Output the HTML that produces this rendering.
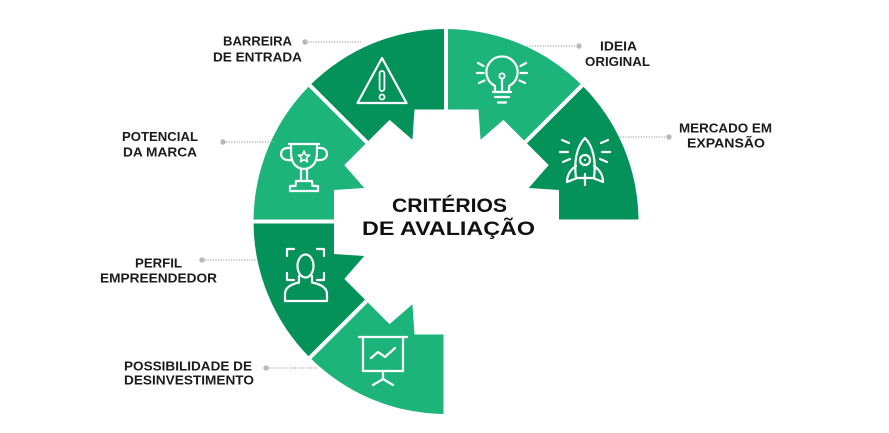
<!DOCTYPE html>
<html>
<head>
<meta charset="utf-8">
<style>
  html,body{margin:0;padding:0;background:#fff;}
  svg{display:block;}
  .lbl{font-family:"Liberation Sans",Arial,sans-serif;font-weight:bold;font-size:13px;fill:#1b1b1b;}
  .ttl{font-family:"Liberation Sans",Arial,sans-serif;font-weight:bold;font-size:19.5px;fill:#111;}
  .ic{fill:none;stroke:#fff;stroke-width:2.2;stroke-linecap:round;stroke-linejoin:round;}
</style>
</head>
<body>
<svg width="889" height="433" viewBox="0 0 889 433" xmlns="http://www.w3.org/2000/svg">
  <rect width="889" height="433" fill="#fff"/>

  <!-- Ring wedges -->
  <path d="M446,219.5 L638.49,219.5 A192.5,192.5 0 0 0 582.12,85.38 Z" fill="#04915a"/>
  <path d="M446,221.5 L582.12,85.38 A192.5,192.5 0 0 0 446,29 Z" fill="#1db47c"/>
  <path d="M446,221.5 L446,29 A192.5,192.5 0 0 0 309.88,85.38 Z" fill="#04915a"/>
  <path d="M446,221.5 L309.88,85.38 A192.5,192.5 0 0 0 253.5,221.5 Z" fill="#1db47c"/>
  <path d="M446,221.5 L253.5,221.5 A192.5,192.5 0 0 0 309.88,357.62 Z" fill="#04915a"/>
  <path d="M446,221.5 L309.88,357.62 A192.5,192.5 0 0 0 443.5,413.98 L443.5,300 Z" fill="#1db47c"/>

  <!-- Gap lines -->
  <g stroke="#fff" stroke-width="4" fill="none">
    <path d="M446,221.5 L592,75.5"/>
    <path d="M446,221.5 L446,18"/>
    <path d="M446,221.5 L300,75.5"/>
    <path d="M446,221.5 L245,221.5"/>
    <path d="M446,221.5 L300,367.5"/>
  </g>

  <!-- White gear (single polygon) -->
  <polygon fill="#fff" points="559,254 559,190 528.73,187.94 548.68,165.09 503.41,119.82 480.56,139.77 478.5,109.5 414.5,109.5 412.44,139.77 389.59,119.82 344.32,165.09 364.27,187.94 334,190 334,254 364.27,256.06 344.32,278.91 389.59,324.18 412.44,304.23 414.5,334.5 478.5,334.5 480.56,304.23 503.41,324.18 548.68,278.91 528.73,256.06"/>

  <!-- Icons -->
  <!-- Warning -->
  <path class="ic" d="M382,58 L406.5,103 L357.5,103 Z"/>
  <rect x="379.6" y="71" width="4.8" height="20" rx="2.4" class="ic" style="stroke-width:1.8"/>
  <circle cx="382" cy="97" r="2.5" class="ic" style="stroke-width:1.8"/>

  <!-- Lightbulb -->
  <path class="ic" d="M495,92 L495,86 A15.6,15.6 0 1 1 509,86 L509,92"/>
  <path class="ic" d="M493,92 H511 M495,97 H509 M498,102.5 H506"/>
  <circle cx="502" cy="76" r="2.6" class="ic" style="stroke-width:1.8"/>
  <path class="ic" d="M502,78.6 V92"/>
  <path class="ic" d="M478,63 L483.5,66 M477,73 H483.5 M479,83 L484.5,80.5 M526,63 L520.5,66 M527,73 H520.5 M525,83 L519.5,80.5"/>

  <!-- Rocket -->
  <path class="ic" d="M585,138 C576,147 574,163 576,178 L594,178 C596,163 594,147 585,138 Z"/>
  <path class="ic" d="M576,166 Q567,172 567,182 L577,178 M594,166 Q603,172 603,182 L593,178"/>
  <circle cx="585" cy="160" r="5" class="ic"/>
  <circle cx="585" cy="160" r="1" fill="#fff"/>
  <path class="ic" d="M585,174 V185"/>
  <path class="ic" d="M562,140 L569,143 M560,152 H568 M563,162 L570,159 M608,140 L601,143 M610,152 H602 M607,162 L600,159"/>

  <!-- Trophy -->
  <path class="ic" d="M289,144 H319"/>
  <path class="ic" d="M291,144 V152 Q291,168 304,169 Q317,168 317,152 V144"/>
  <path class="ic" d="M291,148 Q281,147 281,154.5 Q282,161 292,160 M317,148 Q327,147 327,154.5 Q326,161 316,160"/>
  <path class="ic" d="M301,169 V180.5 M307,169 V180.5"/>
  <path class="ic" d="M296,181 H312 L312.5,186 H318 V191 H290 V186 H295.5 Z"/>
  <path class="ic" style="stroke-width:1.6" d="M304,151 L305.53,154.9 L309.71,155.15 L306.47,157.8 L307.53,161.85 L304,159.6 L300.47,161.85 L301.53,157.8 L298.29,155.15 L302.47,154.9 Z"/>

  <!-- Person -->
  <path class="ic" d="M287,256 V249 H294 M317,249 H324 V256 M287,273 V280 H294 M324,273 V280 H317"/>
  <ellipse cx="305.5" cy="266" rx="8" ry="11.5" class="ic"/>
  <path class="ic" d="M299,276 V282.5 Q285,285.5 285,294 V301 H327 V294 Q327,285.5 312,282.5 V276"/>

  <!-- Presentation -->
  <path class="ic" d="M359,337 H407"/>
  <path class="ic" d="M363,337 V371 H403 V337"/>
  <path class="ic" d="M383,371 V379 L373,385 M383,379 L393,385"/>
  <path class="ic" d="M371,358 L378,352 L385,357 L395,348"/>

  <!-- Leader lines -->
  <g stroke="#a9a9a9" stroke-width="1.3" stroke-dasharray="1.2 1.4" fill="none">
    <path d="M308,42 H361"/>
    <path d="M226,142 H274"/>
    <path d="M527,46 H576"/>
    <path d="M620,137 H666"/>
    <path d="M205,260 H256"/>
    <path d="M269,368 H318"/>
  </g>
  <g fill="#b8b8b8">
    <circle cx="305" cy="42" r="2.7"/>
    <circle cx="223" cy="142" r="2.7"/>
    <circle cx="579" cy="46" r="2.7"/>
    <circle cx="669" cy="137" r="2.7"/>
    <circle cx="202" cy="260" r="2.7"/>
    <circle cx="266" cy="368" r="2.7"/>
  </g>

  <!-- Labels -->
  <g class="lbl" text-anchor="middle">
    <text x="257.5" y="45.7" textLength="69" lengthAdjust="spacingAndGlyphs">BARREIRA</text>
    <text x="257.5" y="61.7" textLength="89" lengthAdjust="spacingAndGlyphs">DE ENTRADA</text>
    <text x="160" y="141" textLength="76" lengthAdjust="spacingAndGlyphs">POTENCIAL</text>
    <text x="160" y="156.3" textLength="74" lengthAdjust="spacingAndGlyphs">DA MARCA</text>
    <text x="618.5" y="50.7" textLength="37" lengthAdjust="spacingAndGlyphs">IDEIA</text>
    <text x="617.5" y="66" textLength="65" lengthAdjust="spacingAndGlyphs">ORIGINAL</text>
    <text x="725.5" y="132.7" textLength="93" lengthAdjust="spacingAndGlyphs">MERCADO EM</text>
    <text x="726" y="147.7" textLength="78" lengthAdjust="spacingAndGlyphs">EXPANSÃO</text>
    <text x="158.5" y="267.7" textLength="47" lengthAdjust="spacingAndGlyphs">PERFIL</text>
    <text x="158.5" y="282.7" textLength="117" lengthAdjust="spacingAndGlyphs">EMPREENDEDOR</text>
    <text x="188" y="370.7" textLength="128" lengthAdjust="spacingAndGlyphs">POSSIBILIDADE DE</text>
    <text x="189" y="384.4" textLength="130" lengthAdjust="spacingAndGlyphs">DESINVESTIMENTO</text>
  </g>

  <!-- Title -->
  <g class="ttl" text-anchor="middle">
    <text x="449.5" y="212" textLength="115" lengthAdjust="spacingAndGlyphs">CRITÉRIOS</text>
    <text x="448.5" y="235" textLength="173" lengthAdjust="spacingAndGlyphs">DE AVALIAÇÃO</text>
  </g>
</svg>
</body>
</html>
